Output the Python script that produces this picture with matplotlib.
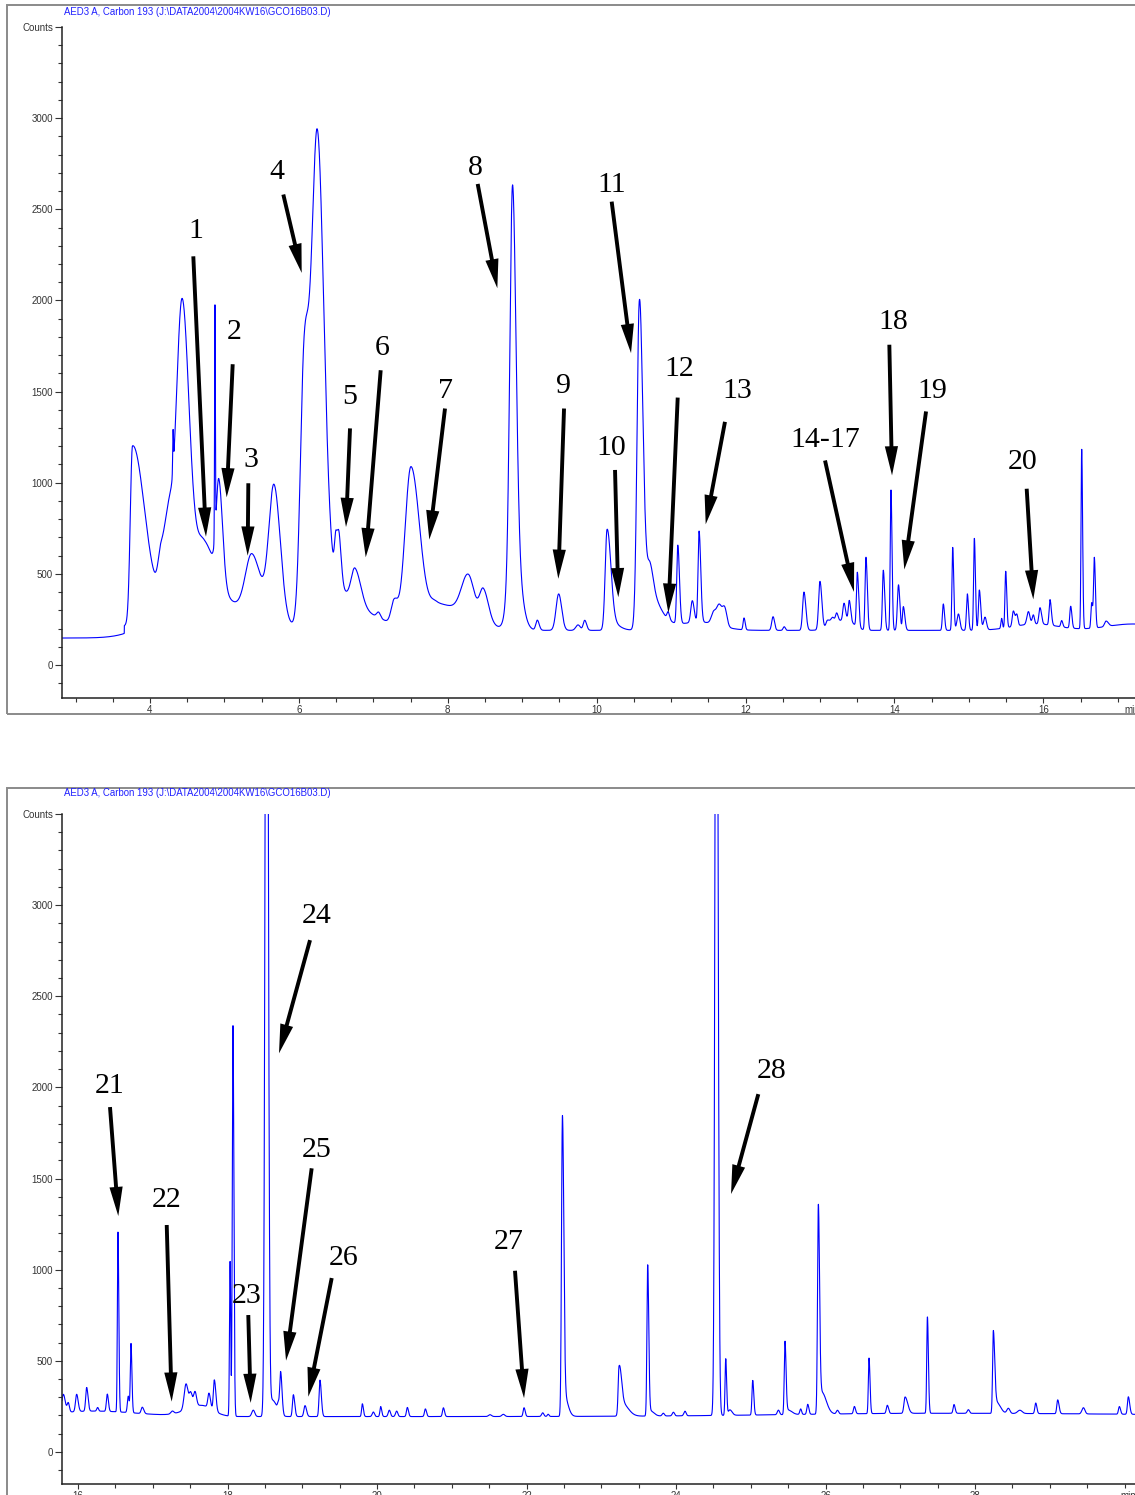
import numpy as np
import matplotlib
matplotlib.use("Agg")
import matplotlib.pyplot as plt
from matplotlib.patches import Rectangle, ArrowStyle

plt.rcParams['font.family'] = ['Liberation Sans', 'DejaVu Sans']

W, H, DPI = 1135, 1495, 100

TITLE = "AED3 A, Carbon 193 (J:\\DATA2004\\2004KW16\\GCO16B03.D)"
Y_TICKS = [0, 500, 1000, 1500, 2000, 2500, 3000, 3500]
Y_TICK_LABELS = ["0", "500", "1000", "1500", "2000", "2500", "3000", "Counts"]
TOP_X_TICKS = [4, 6, 8, 10, 12, 14, 16]
BOT_X_TICKS = [16, 18, 20, 22, 24, 26, 28]

# ---------------- top chromatogram (peak table) ----------
TOP_T_RANGE = (2.818, 17.232)
TOP_DELAY_END = 3.655      # min, detector signal flat before this
TOP_PRE_LEVEL = 148        # counts
TOP_BASE = 190             # counts
top_rt = [4.50, 6.85, 11.40, 13.35, 15.90, 17.20,
          3.765, 4.15, 4.25, 4.31, 4.43, 4.72, 4.873, 4.925, 5.37, 5.666,
          6.07, 6.245, 6.45, 6.50, 6.545, 6.754, 7.07, 7.28, 7.506, 7.85,
          8.276, 8.478, 8.87, 8.875, 9.203, 9.49, 9.75, 9.84,
          10.14, 10.20, 10.572, 10.60, 10.72, 10.96, 11.09, 11.285, 11.376,
          11.57, 11.645, 11.72, 11.98, 12.37, 12.52,
          12.785, 13.00, 13.10, 13.17, 13.224, 13.323, 13.394, 13.502, 13.618,
          13.851, 13.954, 14.055, 14.12, 14.657, 14.783, 14.86, 14.98, 15.074,
          15.141, 15.217, 15.441, 15.495, 15.598, 15.645, 15.80, 15.866, 15.956,
          16.09, 16.247, 16.368, 16.516, 16.65, 16.686, 16.843]
top_h = [230, 90, 45, 60, 35, 35,
         970, 230, 330, 210, 1590, 270, 1270, 540, 327, 740,
         1350, 2690, 200, 250, 146, 193, 30, 125, 890, 145,
         226, 180, 1900, 540, 55, 200, 30, 55,
         535, 40, 1560, 310, 110, 40, 430, 120, 500,
         60, 110, 100, 65, 75, 20,
         210, 265, 40, 40, 50, 90, 110, 300, 400,
         330, 770, 250, 130, 145, 455, 90, 200, 505,
         220, 70, 55, 310, 85, 60, 70, 50, 90,
         140, 35, 120, 985, 140, 380, 30]
top_wl = [0.40, 0.30, 0.35, 0.15, 0.30, 0.35,
          0.03, 0.04, 0.05, 0.005, 0.08, 0.10, 0.005, 0.035, 0.087, 0.07,
          0.052, 0.08, 0.10, 0.02, 0.02, 0.05, 0.025, 0.04, 0.08, 0.10,
          0.09, 0.05, 0.035, 0.06, 0.02, 0.035, 0.03, 0.02,
          0.025, 0.05, 0.03, 0.04, 0.03, 0.015, 0.014, 0.02, 0.014,
          0.03, 0.035, 0.03, 0.012, 0.018, 0.015,
          0.018, 0.018, 0.02, 0.025, 0.015, 0.015, 0.013, 0.012, 0.012,
          0.012, 0.010, 0.015, 0.012, 0.012, 0.010, 0.02, 0.012, 0.010,
          0.012, 0.02, 0.01, 0.010, 0.015, 0.015, 0.02, 0.015, 0.015,
          0.012, 0.012, 0.012, 0.009, 0.01, 0.01, 0.02]
top_wr = [0.65, 0.30, 0.25, 0.10, 0.30, 0.35,
          0.16, 0.06, 0.05, 0.005, 0.095, 0.15, 0.005, 0.05, 0.12, 0.085,
          0.06, 0.09, 0.20, 0.04, 0.03, 0.08, 0.025, 0.05, 0.12, 0.40,
          0.08, 0.069, 0.045, 0.09, 0.025, 0.04, 0.03, 0.025,
          0.05, 0.10, 0.045, 0.18, 0.04, 0.02, 0.022, 0.025, 0.022,
          0.03, 0.035, 0.03, 0.015, 0.02, 0.015,
          0.025, 0.025, 0.03, 0.025, 0.02, 0.02, 0.018, 0.018, 0.018,
          0.018, 0.014, 0.018, 0.02, 0.016, 0.014, 0.02, 0.015, 0.014,
          0.018, 0.02, 0.01, 0.014, 0.02, 0.015, 0.02, 0.015, 0.02,
          0.018, 0.015, 0.016, 0.012, 0.015, 0.014, 0.03]

# ---------------- bottom chromatogram -------------------------------------------
BOT_T_RANGE = (15.786, 30.140)
BOT_BASE = 194
bot_rt = [16.20, 17.65, 27.50,
          15.804, 15.87, 15.982, 16.116, 16.263, 16.392, 16.535, 16.673, 16.709,
          16.86, 17.262, 17.445, 17.507, 17.565, 17.752, 17.824, 18.035, 18.073,
          18.345, 18.523, 18.60, 18.68, 18.711, 18.881, 19.037, 19.237,
          19.804, 19.951, 20.049, 20.165, 20.263, 20.406, 20.647, 20.888,
          21.512, 21.69, 21.967, 22.217, 22.29, 22.48, 22.50, 23.238, 23.28,
          23.621, 23.65, 23.83, 23.965, 24.12, 24.54, 24.665, 24.72, 25.026,
          25.37, 25.458, 25.50, 25.668, 25.762, 25.904, 25.95, 26.16, 26.386,
          26.582, 26.827, 27.064, 27.363, 27.719, 27.911, 28.245, 28.29,
          28.446, 28.60, 28.812, 29.106, 29.45, 29.931, 30.051]
bot_h = [30, 60, 18,
         100, 50, 95, 130, 20, 95, 990, 90, 380,
         35, 15, 140, 80, 80, 80, 170, 850, 2150,
         35, 6500, 90, 40, 230, 120, 60, 200,
         70, 25, 55, 35, 30, 50, 42, 48,
         10, 12, 48, 20, 12, 1600, 120, 250, 70,
         820, 30, 15, 20, 25, 6000, 310, 30, 190,
         25, 400, 25, 30, 55, 1130, 120, 20, 40,
         305, 45, 90, 530, 48, 20, 450, 60,
         28, 18, 58, 76, 34, 42, 96]
bot_wl = [0.50, 0.20, 2.0,
          0.02, 0.015, 0.015, 0.013, 0.012, 0.012, 0.008, 0.012, 0.009,
          0.015, 0.02, 0.025, 0.02, 0.02, 0.015, 0.013, 0.008, 0.009,
          0.02, 0.018, 0.03, 0.012, 0.012, 0.012, 0.015, 0.012,
          0.01, 0.015, 0.01, 0.015, 0.015, 0.012, 0.012, 0.012,
          0.02, 0.02, 0.012, 0.015, 0.012, 0.012, 0.015, 0.012, 0.03,
          0.010, 0.02, 0.015, 0.015, 0.015, 0.017, 0.009, 0.02, 0.01,
          0.015, 0.01, 0.02, 0.012, 0.012, 0.011, 0.025, 0.015, 0.012,
          0.009, 0.013, 0.015, 0.009, 0.012, 0.015, 0.010, 0.02,
          0.02, 0.03, 0.012, 0.012, 0.02, 0.012, 0.012]
bot_wr = [0.60, 0.15, 3.0,
          0.025, 0.015, 0.02, 0.018, 0.012, 0.015, 0.011, 0.012, 0.012,
          0.02, 0.02, 0.025, 0.02, 0.02, 0.02, 0.02, 0.008, 0.012,
          0.02, 0.02, 0.06, 0.012, 0.018, 0.018, 0.02, 0.018,
          0.014, 0.015, 0.014, 0.015, 0.015, 0.015, 0.015, 0.015,
          0.02, 0.02, 0.015, 0.015, 0.012, 0.018, 0.05, 0.03, 0.08,
          0.014, 0.05, 0.015, 0.015, 0.015, 0.02, 0.012, 0.03, 0.014,
          0.015, 0.014, 0.05, 0.012, 0.015, 0.016, 0.06, 0.015, 0.015,
          0.013, 0.016, 0.035, 0.013, 0.015, 0.015, 0.018, 0.05,
          0.02, 0.03, 0.015, 0.018, 0.02, 0.015, 0.018]

# ---------------- peak annotations (label, text pos, arrow tail, arrow tip) -------
top_labels = ["1", "2", "3", "4", "5", "6", "7", "8", "9", "10", "11", "12", "13",
              "14-17", "18", "19", "20"]
top_text_t = [4.614, 5.128, 5.353, 5.702, 6.677, 7.113, 7.963, 8.366, 9.552, 10.202,
              10.202, 11.110, 11.890, 13.068, 13.985, 14.515, 15.723]
top_text_c = [2399, 1842, 1142, 2721, 1486, 1754, 1522, 2741, 1549, 1207,
              2647, 1642, 1519, 1250, 1898, 1520, 1132]
top_tail_t = [4.582, 5.111, 5.321, 5.791, 6.687, 7.099, 7.963, 8.402, 9.562, 10.247,
              10.202, 11.089, 11.724, 13.068, 13.932, 14.425, 15.777]
top_tail_c = [2242, 1650, 997, 2581, 1298, 1617, 1407, 2639, 1407, 1070,
              2542, 1467, 1334, 1122, 1757, 1391, 967]
top_tip_t = [4.752, 5.030, 5.312, 6.038, 6.633, 6.898, 7.752, 8.666, 9.485, 10.291,
             10.462, 10.963, 11.465, 13.457, 13.968, 14.133, 15.866]
top_tip_c = [704, 920, 600, 2151, 757, 591, 688, 2067, 473, 372,
             1711, 287, 772, 401, 1040, 524, 360]

bot_labels = ["21", "22", "23", "24", "25", "26", "27", "28"]
bot_text_t = [16.428, 17.191, 18.261, 19.197, 19.193, 19.549, 21.757, 25.280]
bot_text_c = [2024, 1399, 872, 2956, 1674, 1080, 1168, 2106]
bot_tail_t = [16.428, 17.187, 18.278, 19.104, 19.126, 19.394, 21.846, 25.101]
bot_tail_c = [1892, 1245, 751, 2808, 1556, 954, 994, 1963]
bot_tip_t = [16.539, 17.253, 18.310, 18.689, 18.783, 19.081, 21.967, 24.736]
bot_tip_c = [1294, 276, 269, 2187, 501, 303, 295, 1415]


def chromatogram(t, rt, h, wl, wr):
    y = np.zeros_like(t)
    for c, a, sl, sr in zip(rt, h, wl, wr):
        s = np.where(t < c, sl, sr)
        y += a * np.exp(-0.5 * ((t - c) / s) ** 2)
    return y


fig = plt.figure(figsize=(W / DPI, H / DPI), dpi=DPI)

# grey outer frames of the two printouts
fig.patches.append(Rectangle((7 / W, 1 - 714 / H), 1.2, (714 - 5) / H,
                             transform=fig.transFigure, fill=False,
                             ec='#8a8a8a', lw=1.4, zorder=0))
fig.patches.append(Rectangle((7 / W, -0.2), 1.2, 0.2 + 1 - 788 / H,
                             transform=fig.transFigure, fill=False,
                             ec='#8a8a8a', lw=1.4, zorder=0))

ax_top = fig.add_axes([62 / W, 1 - 698 / H, 1 - 62 / W, (698 - 27) / H])
ax_bot = fig.add_axes([62 / W, 1 - 1484 / H, 1 - 62 / W, (1484 - 814) / H])

t_top = np.linspace(TOP_T_RANGE[0], TOP_T_RANGE[1], 8000)
y_top = np.where(t_top < TOP_DELAY_END, TOP_PRE_LEVEL, TOP_BASE) + \
    chromatogram(t_top, top_rt, top_h, top_wl, top_wr)
t_bot = np.linspace(BOT_T_RANGE[0], BOT_T_RANGE[1], 8000)
y_bot = BOT_BASE + chromatogram(t_bot, bot_rt, bot_h, bot_wl, bot_wr)

arrow_style = ArrowStyle.Simple(head_length=2.1, head_width=0.95, tail_width=0.28)

panels = [
    (ax_top, t_top, y_top, TOP_T_RANGE, (-181, 3500), TOP_X_TICKS, 17.085, 1 - 12 / H,
     top_labels, top_text_t, top_text_c, top_tail_t, top_tail_c, top_tip_t, top_tip_c),
    (ax_bot, t_bot, y_bot, BOT_T_RANGE, (-176, 3500), BOT_X_TICKS, 29.95, 1 - 793 / H,
     bot_labels, bot_text_t, bot_text_c, bot_tail_t, bot_tail_c, bot_tip_t, bot_tip_c),
]

for (ax, t, y, xr, yr, xt, tmin, ty, labs, tx, tc, at, ac, pt, pc) in panels:
    ax.set_facecolor('none')
    ax.plot(t, y, color='#0000ff', lw=0.8, zorder=2)
    ax.set_xlim(*xr)
    ax.set_ylim(*yr)
    ax.set_yticks(Y_TICKS)
    ax.set_yticklabels(Y_TICK_LABELS)
    ax.set_yticks(np.arange(-100, 3501, 100), minor=True)
    ax.set_xticks(xt)
    ax.set_xticklabels([str(v) for v in xt])
    ax.set_xticks(np.arange(np.ceil(xr[0] * 2) / 2, xr[1], 0.5), minor=True)
    for s in ('top', 'right'):
        ax.spines[s].set_visible(False)
    for s in ('left', 'bottom'):
        ax.spines[s].set_linewidth(1.1)
        ax.spines[s].set_color('#222222')
    ax.tick_params(axis='y', which='major', length=5, width=0.8, pad=1.5,
                   labelsize=7, colors='#333333')
    ax.tick_params(axis='y', which='minor', length=3, width=0.8, colors='#333333')
    ax.tick_params(axis='x', which='major', length=3.5, width=0.8, pad=1.5,
                   labelsize=7, colors='#333333')
    ax.tick_params(axis='x', which='minor', length=3, width=0.8, colors='#333333')
    ax.annotate('min', xy=(tmin, 0), xycoords=('data', 'axes fraction'),
                xytext=(0, -5.2), textcoords='offset points', ha='left', va='top',
                fontsize=7, color='#333333', annotation_clip=False)
    fig.text(64 / W, ty, TITLE, color='#2020ff', fontsize=6.9, ha='left', va='center')
    for lab, x0, y0, x1, y1, x2, y2 in zip(labs, tx, tc, at, ac, pt, pc):
        ax.annotate('', xy=(x2, y2), xytext=(x1, y1),
                    arrowprops=dict(arrowstyle=arrow_style, mutation_scale=10,
                                    fc='black', ec='black', lw=0,
                                    shrinkA=0, shrinkB=0),
                    annotation_clip=False, zorder=3)
        ax.text(x0, y0, lab, ha='center', va='center_baseline', fontsize=21.5,
                family=['Liberation Serif', 'DejaVu Serif'], color='black', zorder=3)

fig.savefig('out.png', dpi=DPI)
